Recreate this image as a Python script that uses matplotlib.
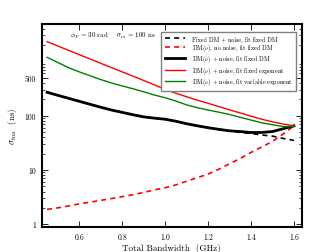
import matplotlib
matplotlib.use('Agg')
import matplotlib.pyplot as plt

plt.rcParams['font.family'] = 'serif'
plt.rcParams['font.serif'] = ['cmr10']
plt.rcParams['mathtext.fontset'] = 'cm'
plt.rcParams['axes.unicode_minus'] = False

bandwidth = [0.45, 0.50, 0.55, 0.60, 0.65, 0.70, 0.75, 0.80, 0.85, 0.90, 0.95, 1.00,
             1.05, 1.10, 1.15, 1.20, 1.25, 1.30, 1.35, 1.40, 1.45, 1.50, 1.55, 1.60]

fixed_dm_noise = [270, 237, 209, 184, 162, 143, 127, 115, 104, 95, 90, 86,
                  79, 71, 65, 60, 56, 52.5, 49, 47, 44, 42, 38, 35]
dmnu_no_noise = [1.88, 2.0, 2.17, 2.37, 2.55, 2.75, 2.97, 3.22, 3.5, 3.85, 4.3, 4.7,
                 5.3, 6.2, 7.2, 8.4, 10.3, 13.0, 16.3, 21.0, 26.5, 33.5, 46, 65]
dmnu_fixed_dm = [270, 237, 209, 184, 162, 143, 127, 115, 104, 95, 90, 86,
                 79, 71, 65, 60, 56, 52.5, 51, 49, 49, 51, 57.5, 65]
dmnu_fixed_exp = [2317, 1923, 1597, 1330, 1109, 923, 769, 641, 535, 445, 369, 306,
                  259, 223, 193, 169, 147, 128, 112, 98, 86, 77, 70, 65]
dmnu_var_exp = [1189, 955, 766, 641, 545, 463, 400, 353, 313, 275, 240, 214,
                186, 158, 140, 127, 116, 105, 93, 83, 74, 68, 63, 63]

fig = plt.figure(figsize=(3.35, 2.53), dpi=100)
ax = fig.add_axes([0.1245, 0.1, 0.776, 0.8024])

ax.plot(bandwidth, fixed_dm_noise, color='black', ls='--', lw=1.2, dashes=(3, 2.5),
        label='Fixed DM + noise, fit fixed DM')
ax.plot(bandwidth, dmnu_no_noise, color='red', ls='--', lw=1.2, dashes=(3, 2.5),
        label=r'DM($\nu$), no noise, fit fixed DM')
ax.plot(bandwidth, dmnu_fixed_dm, color='black', lw=2.0,
        label=r'DM($\nu$) + noise, fit fixed DM')
ax.plot(bandwidth, dmnu_fixed_exp, color='red', lw=1.0,
        label=r'DM($\nu$) + noise, fit fixed exponent')
ax.plot(bandwidth, dmnu_var_exp, color='green', lw=1.0,
        label=r'DM($\nu$) + noise, fit variable exponent')

ax.set_yscale('log')
ax.set_xlim(0.425, 1.636)
ax.set_ylim(0.9, 4950)
ax.set_xticks([0.6, 0.8, 1.0, 1.2, 1.4, 1.6])
ax.set_xticklabels(['0.6', '0.8', '1.0', '1.2', '1.4', '1.6'])
ax.set_yticks([1, 10, 100, 500])
ax.set_yticklabels(['1', '10', '100', '500'])
ax.tick_params(which='both', direction='in', top=True, right=True, labelsize=5.5, pad=4)
ax.tick_params(which='major', length=4, width=0.6)
ax.tick_params(which='minor', length=2.5, width=0.5)
for s in ax.spines.values():
    s.set_linewidth(1.5)

ax.set_xlabel('Total Bandwidth  (GHz)', fontsize=6.5, labelpad=2)
ax.set_ylabel(r'$\sigma_{\rm toa}$  (ns)', fontsize=6.5, labelpad=4)

ax.text(0.109, 0.945, r'$\phi_F$ = 30 rad    $\sigma_m$ = 100 ns', transform=ax.transAxes,
        fontsize=5, va='center', ha='left')

leg = ax.legend(loc='upper right', fontsize=4.4, fancybox=False, framealpha=1,
                edgecolor='gray', handlelength=3.4, labelspacing=0.05,
                borderpad=0.6, handletextpad=1.0, bbox_to_anchor=(0.99, 0.975))
leg.get_frame().set_linewidth(1.0)

fig.savefig('out.png', dpi=100)
